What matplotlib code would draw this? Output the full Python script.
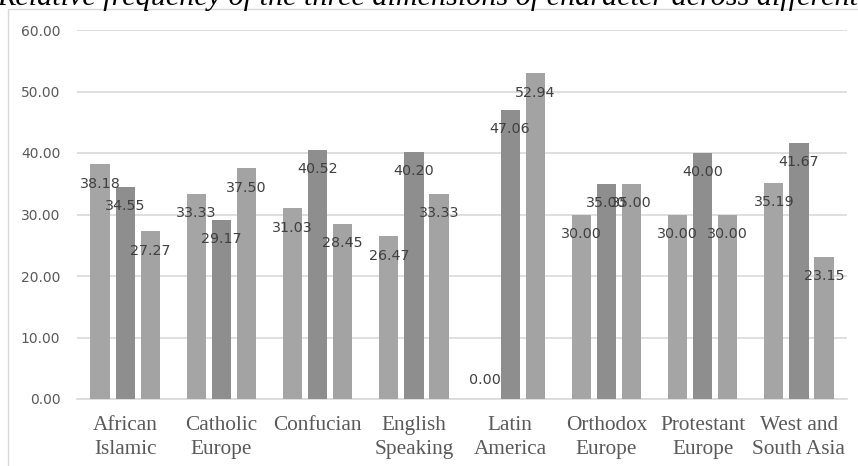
import numpy as np
import matplotlib
matplotlib.use("Agg")
import matplotlib.pyplot as plt
from matplotlib.patches import Rectangle

regions = ["African\nIslamic", "Catholic\nEurope", "Confucian", "English\nSpeaking",
           "Latin\nAmerica", "Orthodox\nEurope", "Protestant\nEurope", "West and\nSouth Asia"]
series1 = [38.18, 33.33, 31.03, 26.47, 0.00, 30.00, 30.00, 35.19]
series2 = [34.55, 29.17, 40.52, 40.20, 47.06, 35.00, 40.00, 41.67]
series3 = [27.27, 37.50, 28.45, 33.33, 52.94, 35.00, 30.00, 23.15]
yticks = [0, 10, 20, 30, 40, 50, 60]

title = "Relative frequency of the three dimensions of character across different regions"

fig = plt.figure(figsize=(8.58, 4.66), dpi=100)
ax = fig.add_axes([77/858, 67/466, 770/858, 369/466])

x = np.arange(len(regions))
step = 0.26
width = 0.2
colors = ["#a5a5a5", "#8e8e8e", "#a3a3a3"]

for k, vals in enumerate([series1, series2, series3]):
    pos = x + (k - 1) * step
    ax.bar(pos, vals, width, color=colors[k], zorder=3)
    for px, v in zip(pos, vals):
        off = -14 if v > 0 else 14
        ax.annotate("%.2f" % v, (px, v), xytext=(0, off), textcoords="offset points",
                    ha="center", va="center", fontsize=10.3, color="#404040", zorder=4)

ax.set_xlim(-0.5, len(regions) - 0.5)
ax.set_ylim(0, 60)
ax.set_yticks(yticks)
ax.set_yticklabels(["%.2f" % t for t in yticks], fontsize=10, color="#595959")
ax.set_xticks(x)
ax.set_xticklabels(regions, fontsize=15.3, color="#595959", family="Liberation Serif",
                   linespacing=1.4)
ax.tick_params(axis="both", length=0)
ax.tick_params(axis="y", pad=12)
ax.tick_params(axis="x", pad=12)
ax.grid(axis="y", color="#d9d9d9", linewidth=1.2, zorder=0)
for s in ["top", "right", "left"]:
    ax.spines[s].set_visible(False)
ax.spines["bottom"].set_color("#d9d9d9")
ax.spines["bottom"].set_linewidth(1.2)

# chart frame, cut at right and bottom edges
fig.patches.append(Rectangle((8/858, -0.05), 1.0, 1 - 9/466 + 0.05, transform=fig.transFigure,
                             fill=False, edgecolor="#d9d9d9", linewidth=1.0))

fig.text(-3/858, 1 - 5/466, title, fontsize=21.7, style="italic", family="Liberation Serif",
         color="#000000", ha="left", va="baseline")

plt.savefig("out.png", dpi=100)
